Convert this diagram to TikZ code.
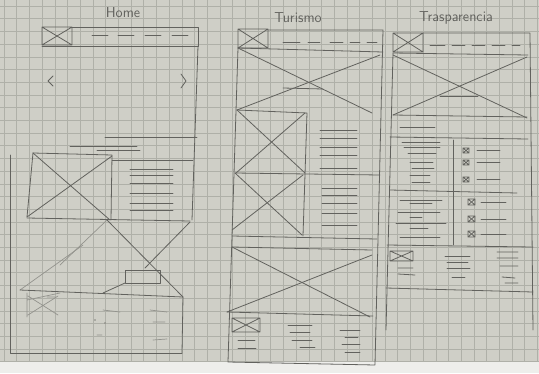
\documentclass[tikz,border=0pt]{standalone}
\usepackage{tikz}
\usetikzlibrary{positioning}
\definecolor{paper}{HTML}{CFCFC7}
\definecolor{gridc}{HTML}{AFB0A8}
\definecolor{pencil}{HTML}{62625E}
\tikzset{
  pen/.style={draw=pencil,line width=0.8pt,line cap=round,line join=round},
  faint/.style={draw=pencil!55!paper,line width=0.7pt,line cap=round},
  gridline/.style={draw=gridc,line width=0.5pt},
  title/.style={font=\sffamily\Large,text=pencil,inner sep=1pt},
}
% box with a cross: x1, y1, x2, y2
\newcommand{\crossbox}[4]{\draw[pen] (#1,#2) rectangle (#3,#4) (#1,#2) -- (#3,#4) (#1,#4) -- (#3,#2);}

\begin{document}
\begin{tikzpicture}[x=1pt,y=-1pt]
  \useasboundingbox (0,0) rectangle (539,373);
  % paper
  \fill[paper] (0,0) rectangle (539,362);
  \fill[paper!35!white] (0,362) rectangle (539,373);
  \foreach \i in {0,...,42} \draw[gridline] (\i*12.7+4,0) -- ++(0,362);
  \foreach \j in {0,...,28} \draw[gridline] (0,\j*12.7+6) -- ++(539,0);

  % titles
  \node[title] (home) at (123,13) {Home};
  \node[title] (turismo) at (298,18) {Turismo};
  \node[title] (trasp) at (456,18) {Trasparencia};

  % ---- Home
  \crossbox{42}{27}{72}{45}
  \draw[pen] (72,27) -- (198,27) -- (198,46) -- (42,46);
  \foreach \a in {92,118,145,172} \draw[pen] (\a,35) -- ++(16,0);
  \draw[pen] (53,76) -- (48,81) -- (53,86);
  \draw[pen] (181,74) -- (186,81) -- (181,88);
  \draw[pen] (198,46) -- (192,220);
  \draw[pen] (105,137) -- (197,137);
  \draw[pen] (70,146) -- (137,146);
  \draw[pen] (97,150) -- (140,150);
  \draw[pen] (33,153) -- (112,155) -- (111,220);
  \draw[pen] (33,153) -- (27,217);
  \draw[pen] (33,153) -- (110,220);
  \draw[pen] (112,156) -- (27,217);
  \draw[pen] (112,160) -- (193,160);
  \foreach \y in {169,175,183,193,203,210} \draw[pen] (130,\y) -- (173,\y);
  \draw[pen] (27,218) -- (190,221);
  \draw[pen] (107,220) -- (183,297);
  \draw[pen] (190,222) -- (145,268);
  \draw[faint] (83,245) -- (20,290);
  \draw[faint] (107,220) -- (60,265);
  \draw[pen] (125,270) rectangle (160,283);
  \draw[pen] (103,293) -- (125,283);
  \draw[pen] (20,290) -- (183,297) -- (182,353);
  \draw[pen] (10,155) -- (10,353) -- (182,353);
  \draw[faint] (27,293) -- (27,317) (27,300) -- (60,293)
    (28,296) -- (58,315) (28,315) -- (58,296);
  \draw[faint] (47,297) -- (55,297) (103,310) -- (120,312)
    (97,335) -- (102,335) (150,310) -- (167,312)
    (153,322) -- (165,322) (153,340) -- (167,339);
  \fill[pencil!70!paper] (95,320) circle (0.8) (105,323) circle (0.8);

  % ---- Turismo
  \crossbox{238}{29}{268}{48}
  \draw[pen] (268,30) -- (383,30) -- (375,365) -- (228,362) -- (238,48);
  \draw[pen] (238,48) -- (383,52);
  \foreach \a/\b in {283/300,308/320,330/343,350/360,367/377} \draw[pen] (\a,42) -- (\b,42);
  \draw[pen] (238,48) -- (372,113);
  \draw[pen] (237,110) -- (380,55);
  \draw[pen] (283,88) -- (323,89);
  \draw[pen] (237,110) -- (307,113) -- (303,236);
  \draw[pen] (237,110) -- (305,173);
  \draw[pen] (305,113) -- (236,173);
  \draw[pen] (235,173) -- (380,175);
  \draw[pen] (235,173) -- (302,235);
  \draw[pen] (303,175) -- (232,230);
  \foreach \y in {130,138,147,155,168} \draw[pen] (320,\y) -- (357,\y);
  \foreach \y in {188,195,203,213,225} \draw[pen] (322,\y) -- (357,\y);
  \draw[pen] (232,236) -- (377,239);
  \draw[pen] (232,247) -- (372,250);
  \draw[pen] (232,247) -- (370,317);
  \draw[pen] (372,255) -- (227,312);
  \draw[pen] (227,312) -- (373,316);
  \crossbox{232}{318}{260}{332}
  \draw[pen] (238,340) -- (255,340) (238,348) -- (256,348);
  \draw[pen] (288,325) -- (312,325) (290,332) -- (310,332)
    (292,340) -- (312,340) (300,347) -- (315,347);
  \draw[pen] (340,330) -- (360,330) (345,337) -- (358,337)
    (342,344) -- (360,344) (345,352) -- (360,352);

  % ---- Trasparencia
  \crossbox{393}{33}{423}{52}
  \draw[pen] (423,33) -- (530,33) -- (533,330);
  \draw[pen] (393,53) -- (528,55);
  \draw[pen] (393,53) -- (386,330);
  \foreach \a/\b in {430/445,452/465,472/485,492/505,512/520} \draw[pen] (\a,45) -- (\b,45);
  \draw[pen] (393,55) -- (527,118);
  \draw[pen] (393,115) -- (527,57);
  \draw[pen] (393,115) -- (527,117);
  \draw[pen] (440,96) -- (478,96);
  \draw[pen] (400,127) -- (435,127);
  \draw[pen] (390,137) -- (528,139);
  \draw[pen] (453,140) -- (453,245);
  \foreach \a/\b/\y in {402/440/142,404/440/147,408/436/153,410/433/162,412/434/168,410/430/175,412/430/182}
    \draw[pen] (\a,\y) -- (\b,\y);
  \draw[pen] (390,190) -- (517,193);
  \foreach \a/\b/\y in {400/442/200,410/432/203,398/440/212,410/422/217,396/446/223,410/428/228,400/440/237}
    \draw[pen] (\a,\y) -- (\b,\y);
  \foreach \y in {148,160,177} {
    \crossbox{463}{\y}{469}{\y+5}
    \draw[pen] (477,\y+2.5) -- (500,\y+2.5);
  }
  \foreach \y in {199,216,231} {
    \crossbox{468}{\y}{475}{\y+6}
    \draw[pen] (481,\y+3) -- (506,\y+3);
  }
  \draw[pen] (387,245) -- (533,247);
  \crossbox{390}{251}{413}{261}
  \draw[pen] (398,268) -- (413,268) (398,274) -- (415,275);
  \draw[pen] (445,256) -- (470,256) (447,262) -- (468,262)
    (447,268) -- (470,268) (452,277) -- (465,277);
  \draw[pen] (497,252) -- (518,252) (497,258) -- (518,258)
    (500,266) -- (518,266) (502,277) -- (515,278) (505,283) -- (518,283);
  \draw[pen] (386,288) -- (533,292);
\end{tikzpicture}
\end{document}
